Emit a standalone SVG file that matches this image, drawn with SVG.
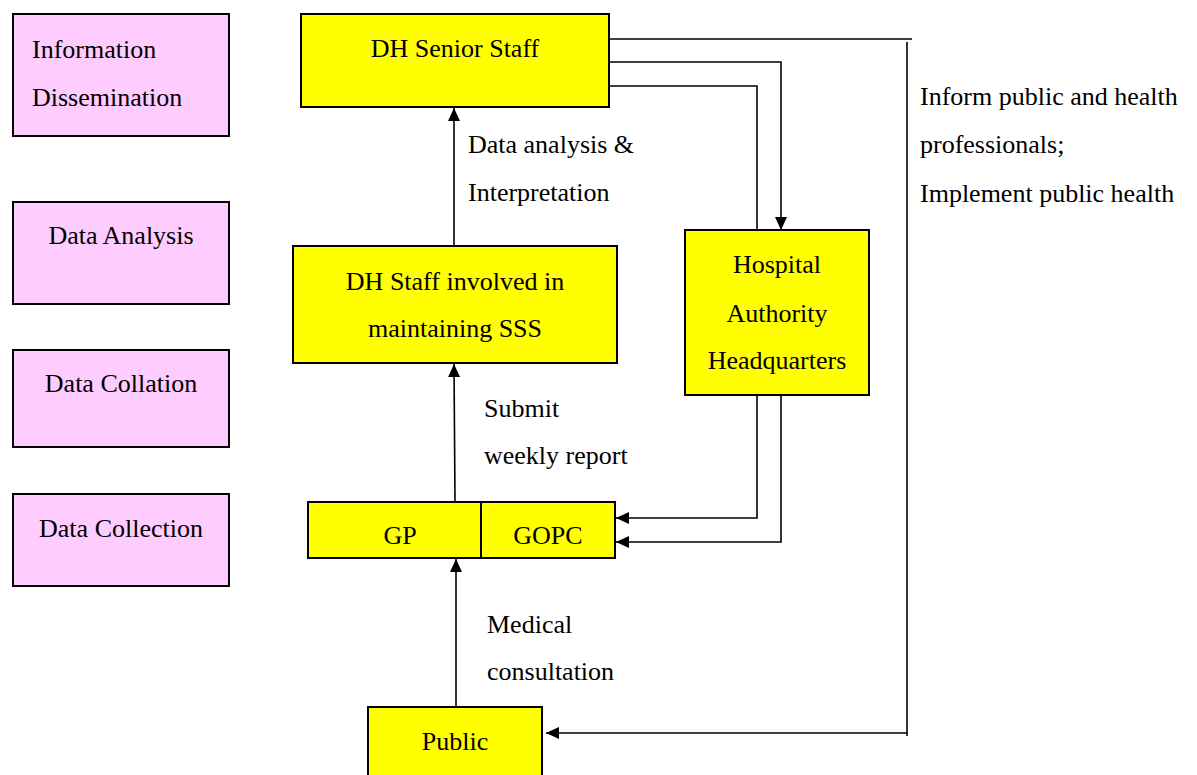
<svg xmlns="http://www.w3.org/2000/svg" width="1197" height="775" viewBox="0 0 1197 775">
<style>
.stage{fill:#FFCCFF;stroke:#000;stroke-width:2}
.node{fill:#FFFF00;stroke:#000;stroke-width:2}
.t{font-family:"Times New Roman","Liberation Serif",Tinos,"Nimbus Roman","DejaVu Serif",serif;font-size:26px;fill:#000}
.c{text-anchor:middle}
.conn{fill:none;stroke:#000;stroke-width:1.6}
</style>
<defs>
<marker id="arr" markerUnits="userSpaceOnUse" markerWidth="14" markerHeight="14" viewBox="0 0 14 14" refX="13" refY="7" orient="auto">
<path d="M0,1 L13,7 L0,13 Z" fill="#000"/>
</marker>
</defs>
<rect width="1197" height="775" fill="#fff"/>

<g id="stage-info">
<rect class="stage" x="13" y="14" width="216" height="122"/>
<text class="t" x="32" y="58">Information</text>
<text class="t" x="32" y="106">Dissemination</text>
</g>
<g id="stage-analysis">
<rect class="stage" x="13" y="202" width="216" height="102"/>
<text class="t c" x="121" y="244">Data Analysis</text>
</g>
<g id="stage-collation">
<rect class="stage" x="13" y="350" width="216" height="97"/>
<text class="t c" x="121" y="392">Data Collation</text>
</g>
<g id="stage-collection">
<rect class="stage" x="13" y="494" width="216" height="92"/>
<text class="t c" x="121" y="537">Data Collection</text>
</g>

<g id="dh-senior">
<rect class="node" x="301" y="14" width="308" height="93"/>
<text class="t c" x="455" y="57">DH Senior Staff</text>
</g>
<g id="dh-staff">
<rect class="node" x="293" y="246" width="324" height="117"/>
<text class="t c" x="455" y="290">DH Staff involved in</text>
<text class="t c" x="455" y="337">maintaining SSS</text>
</g>
<g id="ha-hq">
<rect class="node" x="685" y="230" width="184" height="165"/>
<text class="t c" x="777" y="273">Hospital</text>
<text class="t c" x="777" y="322">Authority</text>
<text class="t c" x="777" y="369">Headquarters</text>
</g>
<g id="gp-gopc">
<rect class="node" x="308" y="502" width="307" height="56"/>
<line x1="481" y1="502" x2="481" y2="558" stroke="#000" stroke-width="2"/>
<text class="t c" x="400" y="544">GP</text>
<text class="t c" x="548" y="544">GOPC</text>
</g>
<g id="public">
<rect class="node" x="368" y="707" width="174" height="75"/>
<text class="t c" x="455" y="750">Public</text>
</g>

<g id="connectors">
<line class="conn" x1="454" y1="246" x2="454" y2="108" marker-end="url(#arr)"/>
<line class="conn" x1="455" y1="502" x2="454" y2="364" marker-end="url(#arr)"/>
<line class="conn" x1="456" y1="707" x2="456" y2="559" marker-end="url(#arr)"/>
<polyline class="conn" points="609,39 912,39"/>
<polyline class="conn" points="907,42 907,736"/>
<polyline class="conn" points="907,733 546,733" marker-end="url(#arr)"/>
<polyline class="conn" points="609,62 781,62 781,230" marker-end="url(#arr)"/>
<polyline class="conn" points="609,86 757,86 757,230"/>
<polyline class="conn" points="757,395 757,518 616,518" marker-end="url(#arr)"/>
<polyline class="conn" points="781,395 781,542 616,542" marker-end="url(#arr)"/>
</g>

<g id="labels">
<text class="t" x="468" y="153">Data analysis &amp;</text>
<text class="t" x="468" y="201">Interpretation</text>
<text class="t" x="484" y="417">Submit</text>
<text class="t" x="484" y="464">weekly report</text>
<text class="t" x="487" y="633">Medical</text>
<text class="t" x="487" y="680">consultation</text>
<text class="t" x="920" y="105">Inform public and health</text>
<text class="t" x="920" y="153">professionals;</text>
<text class="t" x="920" y="202">Implement public health</text>
</g>
</svg>
